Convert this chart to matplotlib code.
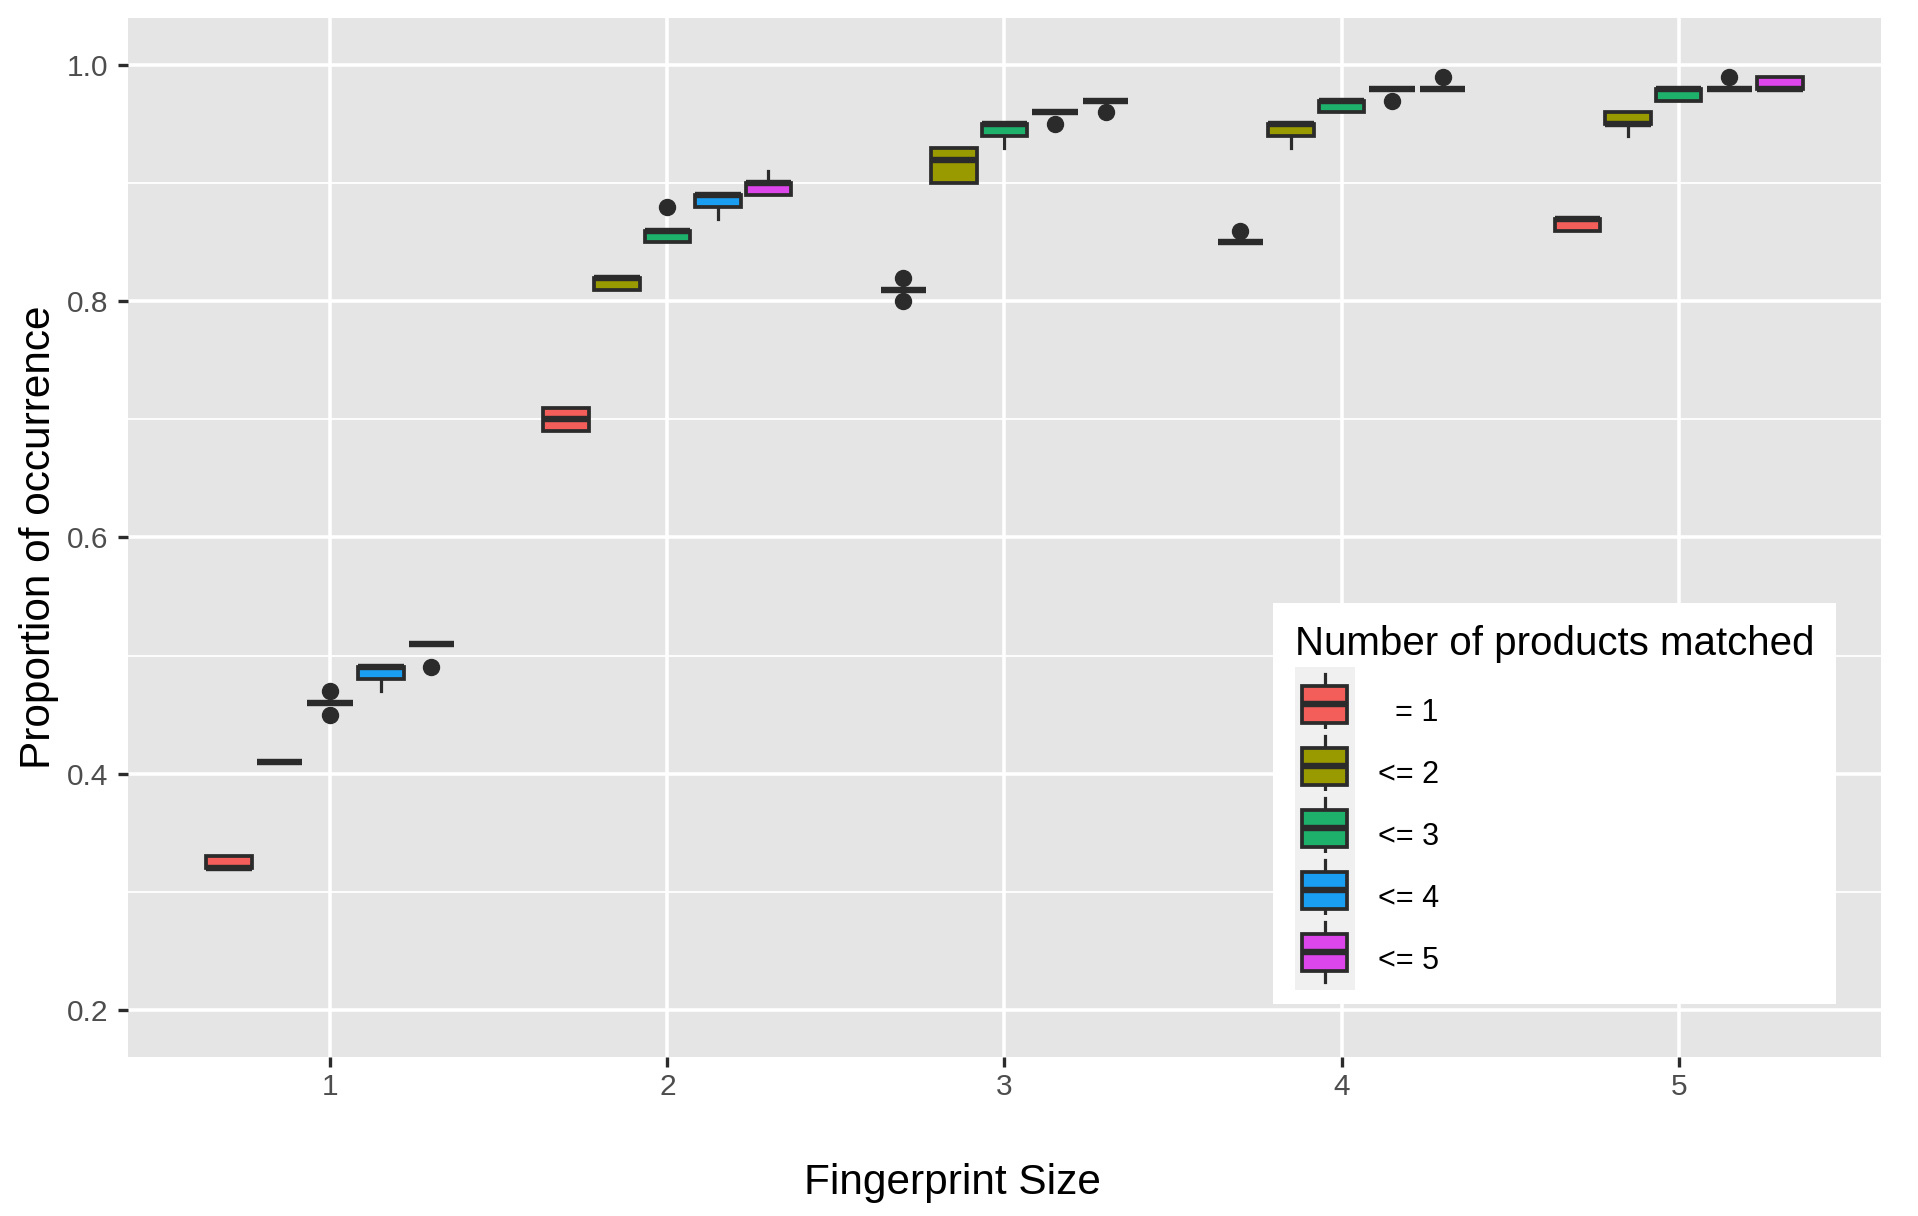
import matplotlib.pyplot as plt
from matplotlib.patches import Patch, Rectangle
from matplotlib.lines import Line2D
from matplotlib.legend_handler import HandlerBase

plt.rcParams['font.family'] = ['Liberation Sans', 'DejaVu Sans']

# Donnees
sizes = [1, 2, 3, 4, 5]
groups = ["  = 1", "<= 2", "<= 3", "<= 4", "<= 5"]
colors = ["#F35E5A", "#999900", "#1DB16C", "#1A9EF2", "#DC46EB"]

red_q1 = [0.32, 0.69, 0.81, 0.85, 0.86]
red_med = [0.32, 0.70, 0.81, 0.85, 0.87]
red_q3 = [0.33, 0.71, 0.81, 0.85, 0.87]
red_lo = [0.32, 0.69, 0.81, 0.85, 0.86]
red_hi = [0.33, 0.71, 0.81, 0.85, 0.87]
red_fliers = [[], [], [0.80, 0.82], [0.86], []]

olive_q1 = [0.41, 0.81, 0.90, 0.94, 0.95]
olive_med = [0.41, 0.82, 0.92, 0.95, 0.95]
olive_q3 = [0.41, 0.82, 0.93, 0.95, 0.96]
olive_lo = [0.41, 0.81, 0.90, 0.93, 0.94]
olive_hi = [0.41, 0.82, 0.93, 0.95, 0.96]
olive_fliers = [[], [], [], [], []]

green_q1 = [0.46, 0.85, 0.94, 0.96, 0.97]
green_med = [0.46, 0.86, 0.95, 0.97, 0.98]
green_q3 = [0.46, 0.86, 0.95, 0.97, 0.98]
green_lo = [0.46, 0.85, 0.93, 0.96, 0.97]
green_hi = [0.46, 0.86, 0.95, 0.97, 0.98]
green_fliers = [[0.45, 0.47], [0.88], [], [], []]

blue_q1 = [0.48, 0.88, 0.96, 0.98, 0.98]
blue_med = [0.49, 0.89, 0.96, 0.98, 0.98]
blue_q3 = [0.49, 0.89, 0.96, 0.98, 0.98]
blue_lo = [0.47, 0.87, 0.96, 0.98, 0.98]
blue_hi = [0.49, 0.89, 0.96, 0.98, 0.98]
blue_fliers = [[], [], [0.95], [0.97], [0.99]]

magenta_q1 = [0.51, 0.89, 0.97, 0.98, 0.98]
magenta_med = [0.51, 0.90, 0.97, 0.98, 0.98]
magenta_q3 = [0.51, 0.90, 0.97, 0.98, 0.99]
magenta_lo = [0.51, 0.89, 0.97, 0.98, 0.98]
magenta_hi = [0.51, 0.91, 0.97, 0.98, 0.99]
magenta_fliers = [[0.49], [], [0.96], [0.99], []]

series = [
	(red_q1, red_med, red_q3, red_lo, red_hi, red_fliers),
	(olive_q1, olive_med, olive_q3, olive_lo, olive_hi, olive_fliers),
	(green_q1, green_med, green_q3, green_lo, green_hi, green_fliers),
	(blue_q1, blue_med, blue_q3, blue_lo, blue_hi, blue_fliers),
	(magenta_q1, magenta_med, magenta_q3, magenta_lo, magenta_hi, magenta_fliers),
]

DARK = "#2B2B2B"
BOX_LW = 2.7
MED_LW = 4.6
WHISK_LW = 2.3
DODGE = 0.15
BOX_W = 0.135


# Glyphe de legende facon ggplot (boite + moustaches sur fond gris)
class BoxKeyHandler(HandlerBase):
	def create_artists(self, legend, orig_handle, xdescent, ydescent, width, height, fontsize, trans):
		extra = legend.labelspacing * fontsize
		x0 = -xdescent
		y0 = -ydescent - extra / 2
		w = width
		h = height + ydescent + extra
		bg = Rectangle((x0, y0), w, h, facecolor="#F0F0F0", edgecolor="none", transform=trans)
		wh_low = Line2D([x0 + 0.5 * w] * 2, [y0 + 0.1 * h, y0 + 0.25 * h], color=DARK, lw=WHISK_LW, transform=trans)
		wh_high = Line2D([x0 + 0.5 * w] * 2, [y0 + 0.75 * h, y0 + 0.9 * h], color=DARK, lw=WHISK_LW, transform=trans)
		box = Rectangle((x0 + 0.125 * w, y0 + 0.25 * h), 0.75 * w, 0.5 * h,
			facecolor=orig_handle.get_facecolor(), edgecolor=DARK, lw=BOX_LW, transform=trans)
		med = Line2D([x0 + 0.125 * w, x0 + 0.875 * w], [y0 + 0.5 * h] * 2, color=DARK, lw=MED_LW,
			solid_capstyle="butt", transform=trans)
		return [bg, wh_low, wh_high, box, med]


fig = plt.figure(figsize=(19.18, 12.16), dpi=100)
fig.patch.set_facecolor("white")
ax = fig.add_axes([0.0667, 0.1308, 0.914, 0.8544])
ax.set_facecolor("#E5E5E5")

for i, (q1, med, q3, lo, hi, fl) in enumerate(series):
	stats = []
	for j in range(len(sizes)):
		stats.append({
			"q1": q1[j], "med": med[j], "q3": q3[j],
			"whislo": lo[j], "whishi": hi[j], "fliers": fl[j],
		})
	positions = [s + (i - 2) * DODGE for s in sizes]
	ax.bxp(
		stats,
		positions=positions,
		widths=BOX_W,
		patch_artist=True,
		showcaps=False,
		manage_ticks=False,
		boxprops=dict(facecolor=colors[i], edgecolor=DARK, linewidth=BOX_LW),
		medianprops=dict(color=DARK, linewidth=MED_LW, solid_capstyle="butt"),
		whiskerprops=dict(color=DARK, linewidth=WHISK_LW),
		flierprops=dict(marker="o", markerfacecolor=DARK, markeredgecolor=DARK, markersize=11.5),
		zorder=3,
	)

# Axes
ax.set_xlim(0.4, 5.6)
ax.set_ylim(0.16, 1.04)
ax.set_xticks(sizes)
ax.set_xticklabels([str(s) for s in sizes])
ax.set_yticks([0.2, 0.4, 0.6, 0.8, 1.0])
ax.set_yticklabels(["0.2", "0.4", "0.6", "0.8", "1.0"])
ax.set_yticks([0.3, 0.5, 0.7, 0.9], minor=True)
ax.tick_params(axis="both", which="major", colors=DARK, labelcolor="#4D4D4D",
	labelsize=21.5, length=7.5, width=2.4)
ax.tick_params(axis="x", which="major", pad=4)
ax.tick_params(axis="y", which="major", pad=6.5)
ax.tick_params(axis="both", which="minor", length=0)

ax.set_axisbelow(True)
ax.grid(True, which="major", color="white", linewidth=2.6)
ax.grid(True, which="minor", axis="y", color="white", linewidth=1.3)
for spine in ax.spines.values():
	spine.set_visible(False)

ax.set_xlabel("Fingerprint Size", fontsize=30.5, color="black")
ax.xaxis.label.set_va("baseline")
ax.xaxis.set_label_coords(0.4706, -0.1319)
ax.set_ylabel("Proportion of occurrence", fontsize=30.5, color="black")
ax.yaxis.label.set_va("baseline")
ax.yaxis.label.set_rotation_mode("anchor")
ax.yaxis.set_label_coords(-0.0445, 0.5)

# Legende
handles = [Patch(facecolor=c) for c in colors]
legend = ax.legend(
	handles,
	groups,
	title="Number of products matched",
	title_fontsize=29,
	fontsize=22,
	loc="upper left",
	bbox_to_anchor=(0.6637, 0.5041),
	bbox_transform=fig.transFigure,
	frameon=True,
	fancybox=False,
	facecolor="white",
	edgecolor="none",
	framealpha=1,
	borderpad=0.72,
	borderaxespad=0,
	handlelength=1.96,
	handleheight=1.93,
	labelspacing=0.53,
	handletextpad=0.75,
	alignment="left",
	handler_map={Patch: BoxKeyHandler()},
)
# un peu plus d'espace entre le titre et les cles
legend._legend_box.sep = 18
legend.set_zorder(5)

plt.savefig("out.png", dpi=100, facecolor=fig.get_facecolor())
